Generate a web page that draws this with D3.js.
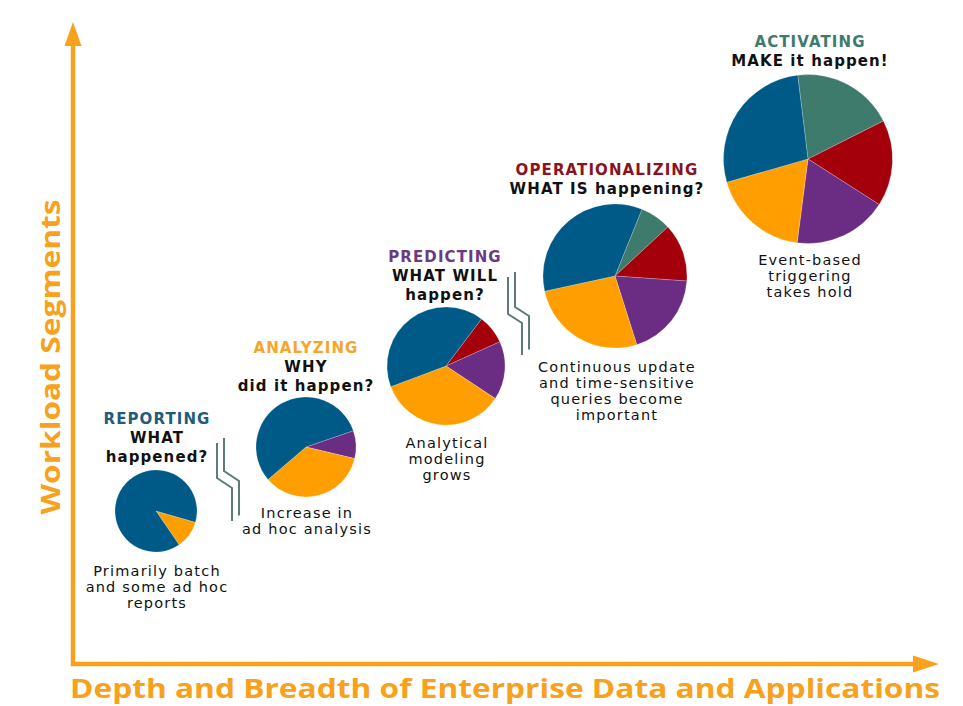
<!DOCTYPE html>
<html>
<head>
<meta charset="utf-8">
<script src="https://cdn.jsdelivr.net/npm/d3@7"></script>
<style>
  body { margin: 0; background: #fff; }
  svg { display: block; }
</style>
</head>
<body>
<svg id="chart"></svg>
<script>
// stages along the x axis
const stages = ["REPORTING", "ANALYZING", "PREDICTING", "OPERATIONALIZING", "ACTIVATING"];
const questions = [
  ["WHAT", "happened?"],
  ["WHY", "did it happen?"],
  ["WHAT WILL", "happen?"],
  ["WHAT IS happening?"],
  ["MAKE it happen!"]
];
const captions = [
  ["Primarily batch", "and some ad hoc", "reports"],
  ["Increase in", "ad hoc analysis"],
  ["Analytical", "modeling", "grows"],
  ["Continuous update", "and time-sensitive", "queries become", "important"],
  ["Event-based", "triggering", "takes hold"]
];

// workload segments (clockwise order in each pie), share in % per stage
const segments = ["Event-based", "Continuous", "Analytical", "Ad hoc", "Batch"];
const eventBased = [0, 0, 0, 7, 19.5];
const continuous = [0, 0, 8, 13, 16.5];
const analytical = [0, 9, 16, 19, 18];
const adHoc      = [11, 35, 35, 26.5, 18.5];
const batch      = [89, 56, 41, 34.5, 27.5];

const xLabel = "Depth and Breadth of Enterprise Data and Applications";
const yLabel = "Workload Segments";

// layout (px / degrees)
const layout = [
  {cx: 156, cy: 511, r: 41,   start: 106, tx: 157, ty: 424, capx: 157, capy: 576},
  {cx: 306, cy: 447, r: 50,   start: 71,  tx: 306, ty: 353, capx: 307, capy: 518},
  {cx: 446, cy: 366, r: 59,   start: 37,  tx: 445, ty: 262, capx: 447, capy: 448},
  {cx: 615, cy: 276, r: 72,   start: 22,  tx: 607, ty: 175, capx: 617, capy: 372},
  {cx: 808, cy: 159, r: 84.5, start: -7,  tx: 810, ty: 47,  capx: 810, capy: 265}
];

const segColor = d3.scaleOrdinal()
  .domain(segments)
  .range(["#3e7b6c", "#a3000b", "#6b2d83", "#ff9e00", "#005a87"]);
const titleColor = ["#1f5c7c", "#f5a52a", "#6b3a80", "#8c1221", "#3f7b6d"];
const axisColor = "#f8a11c";
const linkColor = "#5d7b79";

const W = 963, H = 706;
const svg = d3.select("#chart").attr("width", W).attr("height", H);

// axes with arrows
const ax = {x0: 73, y0: 664, yTop: 22, xEnd: 939};
svg.append("path")
  .attr("d", `M${ax.x0},${ax.yTop + 22} L${ax.x0},${ax.y0} L${ax.xEnd - 24},${ax.y0}`)
  .attr("fill", "none")
  .attr("stroke", axisColor)
  .attr("stroke-width", 4.5);
svg.append("path")
  .attr("d", `M${ax.x0},${ax.yTop} L${ax.x0 + 8.5},${ax.yTop + 24} L${ax.x0 - 8.5},${ax.yTop + 24} Z`)
  .attr("fill", axisColor);
svg.append("path")
  .attr("d", `M${ax.xEnd},${ax.y0} L${ax.xEnd - 26},${ax.y0 - 8.5} L${ax.xEnd - 26},${ax.y0 + 8.5} Z`)
  .attr("fill", axisColor);

svg.append("text")
  .attr("x", 505).attr("y", 698)
  .attr("text-anchor", "middle")
  .attr("textLength", 870)
  .attr("lengthAdjust", "spacingAndGlyphs")
  .style("font", "bold 27px 'Open Sans', sans-serif")
  .attr("fill", axisColor)
  .text(xLabel);

svg.append("text")
  .attr("transform", "translate(60,357) rotate(-90)")
  .attr("text-anchor", "middle")
  .attr("textLength", 315)
  .attr("lengthAdjust", "spacingAndGlyphs")
  .style("font", "bold 27px 'Open Sans', sans-serif")
  .attr("fill", axisColor)
  .text(yLabel);

// zigzag connectors between stages
const links = [
  {x: 217, y1: 443, y2: 478, dx: 15, dy: 10, y3: 521},
  {x: 508, y1: 277, y2: 314, dx: 14, dy: 9, y3: 355}
];
links.forEach(l => {
  [0, 7].forEach(off => {
    const top = l.y1 - off * 0.7, kink = l.y2 - off;
    svg.append("path")
      .attr("d", `M${l.x + off},${top} L${l.x + off},${kink} L${l.x + off + l.dx},${kink + l.dy} L${l.x + off + l.dx},${l.y3 - off * 0.8}`)
      .attr("fill", "none")
      .attr("stroke", linkColor)
      .attr("stroke-width", 2);
  });
});

// pies
const series = [eventBased, continuous, analytical, adHoc, batch];
const pie = d3.pie().sort(null).value(d => d.v);

stages.forEach((name, i) => {
  const L = layout[i];
  const data = segments.map((s, k) => ({seg: s, v: series[k][i]})).filter(d => d.v > 0);
  const a0 = L.start * Math.PI / 180;
  const arcs = pie.startAngle(a0).endAngle(a0 + 2 * Math.PI)(data);
  const arc = d3.arc().innerRadius(0).outerRadius(L.r);

  const g = svg.append("g").attr("transform", `translate(${L.cx},${L.cy})`);
  g.selectAll("path")
    .data(arcs)
    .join("path")
    .attr("d", arc)
    .attr("fill", d => segColor(d.data.seg))
    .attr("stroke", "#ffffff")
    .attr("stroke-opacity", 0.35)
    .attr("stroke-width", 0.6);

  // stage title + question
  const t = svg.append("text")
    .attr("text-anchor", "middle")
    .style("font", "bold 15px 'DejaVu Sans', Verdana, sans-serif")
    .style("letter-spacing", "1.1px");
  t.append("tspan").attr("x", L.tx).attr("y", L.ty)
    .attr("fill", titleColor[i]).text(name);
  questions[i].forEach((q, k) => {
    t.append("tspan").attr("x", L.tx).attr("y", L.ty + 19 * (k + 1))
      .attr("fill", "#111").text(q);
  });

  // caption
  const c = svg.append("text")
    .attr("text-anchor", "middle")
    .style("font", "14.5px 'DejaVu Sans', Verdana, sans-serif")
    .style("letter-spacing", "1.2px")
    .attr("fill", "#111");
  captions[i].forEach((line, k) => {
    c.append("tspan").attr("x", L.capx).attr("y", L.capy + 16 * k).text(line);
  });
});
</script>
</body>
</html>
